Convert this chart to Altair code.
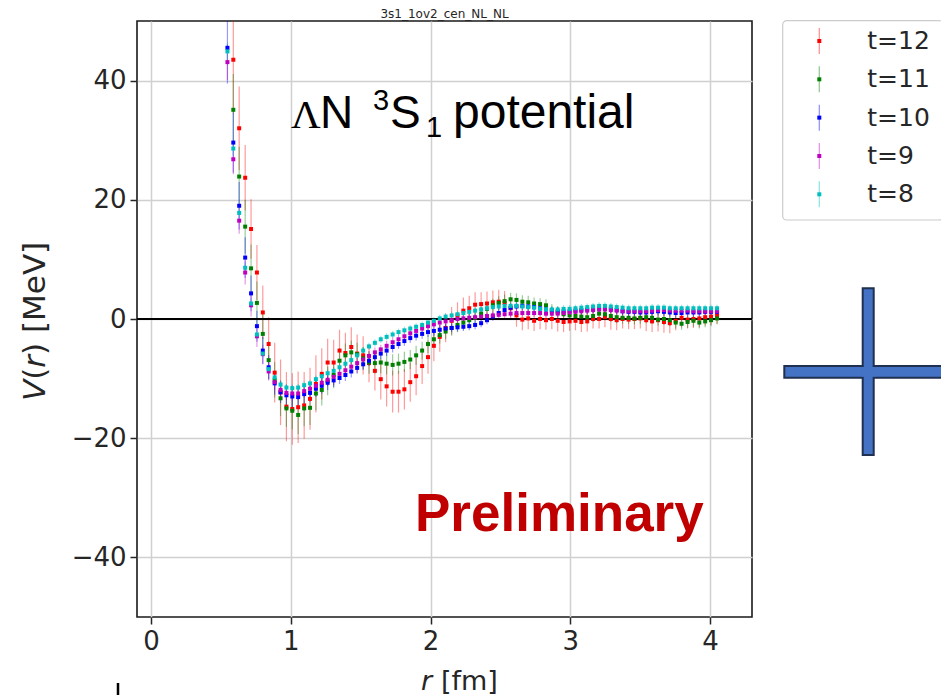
import altair as alt
import pandas as pd

# ---------------- data ----------------
r_fm = [0.547, 0.589, 0.631, 0.674, 0.716, 0.758, 0.800, 0.842, 0.885, 0.927,
        0.969, 1.011, 1.053, 1.096, 1.138, 1.180, 1.222, 1.264, 1.307, 1.349,
        1.391, 1.433, 1.475, 1.518, 1.560, 1.602, 1.644, 1.686, 1.729, 1.771,
        1.813, 1.855, 1.897, 1.940, 1.982, 2.024, 2.066, 2.108, 2.151, 2.193,
        2.235, 2.277, 2.319, 2.362, 2.404, 2.446, 2.488, 2.530, 2.573, 2.615,
        2.657, 2.699, 2.741, 2.784, 2.826, 2.868, 2.910, 2.952, 2.995, 3.037,
        3.079, 3.121, 3.163, 3.206, 3.248, 3.290, 3.332, 3.374, 3.417, 3.459,
        3.501, 3.543, 3.585, 3.628, 3.670, 3.712, 3.754, 3.796, 3.839, 3.881,
        3.923, 3.965, 4.007, 4.050]

v_t12 = [None, 43.5, 32.0, 23.7, 15.1, 7.8, 1.1, -4.2, -9.0, -12.3,
         -14.7, -15.1, -14.8, -14.5, -13.4, -10.9, -9.2, -7.3, -7.3, -5.3,
         -5.7, -4.7, -5.8, -6.1, -7.4, -8.7, -10.1, -11.3, -12.2, -12.2,
         -11.8, -10.6, -9.6, -7.9, -6.4, -4.5, -3.0, -1.5, -0.3, 0.6,
         1.4, 1.8, 2.4, 2.5, 2.6, 2.8, 2.9, 2.7, 1.8, 0.6,
         -0.1, 0.1, -0.3, 0.0, -0.2, 0.0, -0.3, -0.5, -0.4, -0.3,
         -0.5, -0.4, 0.0, 0.0, 0.3, 0.0, -0.2, 0.0, -0.1, 0.0,
         0.1, -0.2, -0.4, -0.2, -0.5, -0.7, -0.3, 0.2, -0.1, 0.0,
         0.1, 0.3, 0.4, 0.6]
e_t12 = [0.0, 9.0, 7.0, 5.5, 5.0, 4.6, 4.5, 4.5, 5.0, 5.5,
         5.8, 6.0, 6.0, 5.6, 5.2, 4.8, 4.3, 4.0, 3.8, 3.5,
         3.4, 3.3, 3.2, 3.2, 3.2, 3.3, 3.4, 3.4, 3.5, 3.5,
         3.4, 3.3, 3.2, 3.0, 2.8, 2.6, 2.5, 2.4, 2.3, 2.2,
         2.2, 2.1, 2.1, 2.0, 2.0, 2.0, 2.0, 2.0, 1.9, 1.9,
         1.8, 1.8, 1.7, 1.7, 1.6, 1.7, 1.8, 1.7, 1.6, 1.6,
         1.7, 1.7, 1.6, 1.6, 1.7, 1.8, 1.7, 1.6, 1.6, 1.7,
         1.7, 1.8, 1.8, 1.9, 1.8, 1.7, 1.6, 1.6, 1.5, 1.5,
         1.5, 1.4, 1.4, 1.4]

v_t11 = [None, 35.1, 23.9, 15.5, 8.5, 2.7, -2.5, -6.9, -10.2, -13.3,
         -15.0, -15.4, -16.1, -15.0, -14.9, -12.5, -11.9, -10.4, -9.4, -7.0,
         -6.1, -5.6, -5.9, -6.6, -7.3, -7.4, -7.3, -7.5, -7.7, -7.5,
         -7.2, -6.8, -6.1, -5.3, -4.2, -3.4, -2.7, -2.1, -1.5, -1.0,
         -0.6, -0.2, 0.2, 0.9, 1.7, 2.3, 2.7, 3.0, 3.3, 3.2,
         2.9, 2.8, 2.6, 2.5, 2.3, 1.5, 1.1, 0.8, 0.6, 0.5,
         0.4, 0.3, 0.5, 0.9, 0.8, 0.5, 0.3, 0.2, 0.2, 0.1,
         0.2, 0.3, 0.2, -0.1, 0.0, -0.2, -0.6, -0.8, -0.5, -0.3,
         -0.6, -0.4, -0.2, 0.1]
e_t11 = [0.0, 6.0, 5.0, 4.5, 4.0, 3.6, 3.4, 3.2, 3.0, 3.0,
         3.1, 3.1, 3.2, 3.0, 2.9, 2.8, 2.6, 2.4, 2.2, 2.1,
         2.0, 2.0, 1.9, 1.9, 1.9, 1.8, 1.8, 1.8, 1.8, 1.7,
         1.7, 1.6, 1.6, 1.5, 1.5, 1.4, 1.4, 1.3, 1.3, 1.2,
         1.2, 1.1, 1.1, 1.1, 1.1, 1.1, 1.1, 1.1, 1.1, 1.1,
         1.1, 1.1, 1.0, 1.0, 1.0, 1.0, 1.0, 1.0, 1.0, 1.0,
         1.0, 1.0, 1.0, 1.0, 1.0, 1.0, 1.0, 1.0, 1.0, 1.0,
         1.0, 1.0, 1.0, 1.0, 1.0, 1.0, 1.0, 1.0, 1.0, 1.0,
         1.0, 1.0, 1.0, 1.0]

v_t10 = [45.5, 29.6, 19.0, 10.3, 4.3, -1.2, -5.3, -8.1, -10.8, -12.3,
         -12.8, -13.0, -13.1, -12.6, -12.4, -11.7, -11.2, -10.7, -10.3, -9.9,
         -9.4, -8.8, -8.2, -7.6, -7.0, -6.4, -5.8, -5.3, -4.7, -4.2,
         -3.7, -3.2, -2.8, -2.5, -2.2, -2.0, -1.8, -1.6, -1.5, -1.4,
         -1.3, -1.2, -1.0, -0.7, -0.2, 0.4, 1.0, 1.5, 1.9, 2.1,
         2.2, 2.1, 2.0, 1.8, 1.6, 1.4, 1.3, 1.3, 1.3, 1.4,
         1.5, 1.6, 1.7, 1.8, 1.8, 1.7, 1.5, 1.3, 1.2, 1.2,
         1.1, 1.1, 1.2, 1.3, 1.2, 1.1, 1.0, 1.0, 1.1, 1.1,
         1.1, 1.2, 1.2, 1.2]
e_t10 = [6.0, 5.0, 4.0, 3.4, 3.0, 2.6, 2.3, 2.0, 1.9, 1.8,
         1.8, 1.8, 1.7, 1.6, 1.5, 1.4, 1.3, 1.2, 1.1, 1.0,
         1.0, 1.0, 1.0, 0.9, 0.9, 0.9, 0.9, 0.9, 0.9, 0.8,
         0.8, 0.8, 0.8, 0.8, 0.8, 0.8, 0.8, 0.8, 0.7, 0.7,
         0.7, 0.7, 0.7, 0.7, 0.7, 0.7, 0.7, 0.7, 0.7, 0.7,
         0.7, 0.7, 0.7, 0.7, 0.7, 0.7, 0.7, 0.7, 0.7, 0.7,
         0.7, 0.7, 0.7, 0.7, 0.7, 0.7, 0.7, 0.7, 0.7, 0.7,
         0.7, 0.7, 0.7, 0.7, 0.7, 0.7, 0.7, 0.7, 0.7, 0.7,
         0.7, 0.7, 0.7, 0.7]

v_t9 = [43.1, 26.8, 16.5, 7.8, 2.3, -2.9, -5.9, -8.8, -10.6, -11.9,
        -12.4, -12.5, -12.5, -12.1, -11.7, -11.2, -10.7, -10.2, -9.7, -9.2,
        -8.6, -8.0, -7.4, -6.8, -6.2, -5.6, -5.1, -4.5, -3.9, -3.4,
        -2.9, -2.4, -2.0, -1.6, -1.2, -0.9, -0.6, -0.4, -0.2, 0.0,
        0.1, 0.2, 0.3, 0.4, 0.5, 0.6, 0.7, 0.8, 0.9, 1.0,
        1.0, 1.0, 1.0, 1.0, 0.9, 0.9, 0.9, 1.0, 1.1, 1.2,
        1.3, 1.4, 1.5, 1.6, 1.6, 1.5, 1.4, 1.3, 1.3, 1.3,
        1.3, 1.3, 1.4, 1.5, 1.5, 1.4, 1.4, 1.4, 1.4, 1.3,
        1.3, 1.3, 1.3, 1.3]
e_t9 = [3.0, 2.5, 2.2, 2.0, 1.9, 1.8, 1.6, 1.5, 1.3, 1.2,
        1.2, 1.2, 1.1, 1.1, 1.0, 1.0, 1.0, 0.9, 0.9, 0.9,
        0.8, 0.8, 0.8, 0.8, 0.8, 0.8, 0.8, 0.8, 0.8, 0.8,
        0.7, 0.7, 0.7, 0.7, 0.7, 0.7, 0.7, 0.7, 0.7, 0.7,
        0.6, 0.6, 0.6, 0.6, 0.6, 0.6, 0.6, 0.6, 0.6, 0.6,
        0.6, 0.6, 0.6, 0.6, 0.6, 0.6, 0.6, 0.6, 0.6, 0.6,
        0.6, 0.6, 0.6, 0.6, 0.6, 0.6, 0.6, 0.6, 0.6, 0.6,
        0.6, 0.6, 0.6, 0.6, 0.6, 0.6, 0.6, 0.6, 0.6, 0.6,
        0.6, 0.6, 0.6, 0.6]

v_t8 = [44.9, 28.6, 17.8, 8.6, 2.6, -2.6, -5.8, -8.4, -9.8, -11.0,
        -11.5, -11.6, -11.5, -11.1, -10.8, -10.1, -9.6, -9.1, -8.7, -8.1,
        -7.5, -6.9, -6.1, -5.3, -4.6, -4.0, -3.4, -3.0, -2.6, -2.2,
        -1.9, -1.6, -1.3, -1.0, -0.6, -0.3, 0.1, 0.4, 0.6, 0.8,
        1.0, 1.2, 1.4, 1.6, 1.8, 2.0, 2.1, 2.2, 2.2, 2.2,
        2.1, 2.0, 1.9, 1.7, 1.6, 1.6, 1.6, 1.7, 1.7, 1.8,
        1.9, 2.0, 2.1, 2.2, 2.2, 2.1, 2.0, 1.9, 1.8, 1.8,
        1.8, 1.8, 1.9, 1.9, 1.9, 1.8, 1.8, 1.8, 1.8, 1.8,
        1.8, 1.8, 1.8, 1.8]
e_t8 = [1.5, 1.2, 1.0, 0.9, 0.8, 0.8, 0.7, 0.7, 0.7, 0.7,
        0.6, 0.6, 0.6, 0.6, 0.6, 0.6, 0.6, 0.6, 0.6, 0.6,
        0.6, 0.6, 0.6, 0.6, 0.6, 0.6, 0.6, 0.6, 0.6, 0.6,
        0.6, 0.6, 0.6, 0.6, 0.6, 0.6, 0.6, 0.6, 0.6, 0.6,
        0.6, 0.6, 0.6, 0.6, 0.6, 0.6, 0.6, 0.6, 0.6, 0.6,
        0.6, 0.6, 0.6, 0.6, 0.6, 0.6, 0.6, 0.6, 0.6, 0.6,
        0.6, 0.6, 0.6, 0.6, 0.6, 0.6, 0.6, 0.6, 0.6, 0.6,
        0.6, 0.6, 0.6, 0.6, 0.6, 0.6, 0.6, 0.6, 0.6, 0.6,
        0.6, 0.6, 0.6, 0.6]

series_labels = ["t=12", "t=11", "t=10", "t=9", "t=8"]
series_colors = ["#ff0000", "#008000", "#0000ff", "#bf00bf", "#00bfbf"]
series_values = [v_t12, v_t11, v_t10, v_t9, v_t8]
series_errors = [e_t12, e_t11, e_t10, e_t9, e_t8]

x_ticks = [0, 1, 2, 3, 4]
y_ticks = [-40, -20, 0, 20, 40]

rows = []
for z, (lab, vals, errs) in enumerate(zip(series_labels, series_values, series_errors)):
    for r, v, e in zip(r_fm, vals, errs):
        if v is None:
            continue
        rows.append({"r": r, "V": v, "lo": v - e, "hi": v + e, "t": lab, "z": z})
df = pd.DataFrame(rows)
leg_df = pd.DataFrame({"t": series_labels})

# ---------------- chart ----------------
FONT = "DejaVu Sans"
TXT = "#262626"
W, H = 615, 596

xscale = alt.Scale(domain=[-0.1, 4.3], nice=False, zero=False)
yscale = alt.Scale(domain=[-50, 50], nice=False, zero=False)
cscale = alt.Scale(domain=series_labels, range=series_colors)
x_axis = alt.Axis(values=x_ticks, format="d", title=None, grid=True)
y_axis = alt.Axis(values=y_ticks, title=None, grid=True, orient="left")

bars = alt.Chart(df).mark_rule(clip=True, strokeWidth=1.2, opacity=0.4).encode(
    x=alt.X("r:Q", scale=xscale, axis=x_axis),
    y=alt.Y("lo:Q", scale=yscale, axis=None),
    y2="hi:Q",
    color=alt.Color("t:N", scale=cscale, legend=None),
    order=alt.Order("z:Q"),
)

zero_df = pd.DataFrame({"V": [0]})
zero = alt.Chart(zero_df).mark_rule(color="black", strokeWidth=2).encode(
    y=alt.Y("V:Q", scale=yscale, axis=None))

pts = alt.Chart(df).mark_square(clip=True, size=16, opacity=1).encode(
    x=alt.X("r:Q", scale=xscale, axis=x_axis),
    y=alt.Y("V:Q", scale=yscale, axis=y_axis),
    color=alt.Color("t:N", scale=cscale, legend=None),
    order=alt.Order("z:Q"),
)

one = pd.DataFrame({"a": [0]})


def txt(text, x, y, size, font="Liberation Sans", weight="normal", style="normal",
        color="black", angle=0, align="left", baseline="alphabetic"):
    return alt.Chart(one).mark_text(text=text, font=font, fontSize=size, fontWeight=weight,
                                    fontStyle=style, color=color, angle=angle, align=align,
                                    baseline=baseline).encode(x=alt.value(x), y=alt.value(y))


def rect(x1, x2, y1, y2, fill, stroke=None, sw=0, radius=0):
    kw = dict(fill=fill, cornerRadius=radius)
    if stroke is not None:
        kw.update(stroke=stroke, strokeWidth=sw)
    return alt.Chart(one).mark_rect(**kw).encode(
        x=alt.value(x1), x2=alt.value(x2), y=alt.value(y1), y2=alt.value(y2))


# ---- legend (box + entries laid out by a point scale) ----
legend_box = rect(645.7, 806.3, -0.3, 199, "white", "#cccccc", 1.2, 4)
leg_y = alt.Y("t:N", scale=alt.Scale(type="point", domain=series_labels,
                                     range=[20, 173.3], padding=0), axis=None)
leg_lines = alt.Chart(leg_df).mark_tick(orient="vertical", size=26, thickness=1.2,
                                        opacity=0.45).encode(
    x=alt.value(682.3), y=leg_y, color=alt.Color("t:N", scale=cscale, legend=None))
leg_sq = alt.Chart(leg_df).mark_square(size=16, opacity=1).encode(
    x=alt.value(682.3), y=leg_y, color=alt.Color("t:N", scale=cscale, legend=None))
leg_txt = alt.Chart(leg_df).mark_text(align="left", baseline="middle", font=FONT,
                                      fontSize=25, color=TXT).encode(
    x=alt.value(730.3), y=leg_y, text="t:N")

# blue cross (slide decoration)
cross = [
    rect(725.7, 736.7, 267.3, 434, "#4472c4", "#1f3050", 2),
    rect(647.3, 820, 345, 356.7, "#4472c4", "#1f3050", 2),
    rect(726.8, 735.6, 343.5, 358.2, "#4472c4"),
    rect(724.2, 738.2, 346.1, 355.6, "#4472c4"),
]

bottom_tick = alt.Chart(one).mark_rule(color="black", strokeWidth=2.5).encode(
    x=alt.value(-19), y=alt.value(662), y2=alt.value(674))

# plot title (small, just above the frame)
title = txt("3s1_1ov2_cen_NL_NL", 307.5, -3, 12, font=FONT, color=TXT, align="center")

# annotation "ΛN 3S1 potential"
ann = [
    txt("Λ", 154, 107, 41, font="Liberation Serif"),
    txt("N", 183, 107, 46),
    txt("3", 236, 89, 29),
    txt("S", 253, 107, 46),
    txt("1", 289, 116, 29),
    txt("potential", 316, 107, 48),
]
prelim = txt("Preliminary", 278, 510, 53, weight="bold", color="#c00000")

# axis titles with italic parts
YF = 31
ytitle = [
    txt("V", -92, 380, YF, font=FONT, style="italic", color=TXT, angle=270),
    txt("(", -92, 358.8, YF, font=FONT, color=TXT, angle=270),
    txt("r", -92, 346.7, YF, font=FONT, style="italic", color=TXT, angle=270),
    txt(")", -92, 334.0, YF, font=FONT, color=TXT, angle=270),
    txt("[MeV]", -92, 312.0, YF, font=FONT, color=TXT, angle=270),
]
xtitle = [
    txt("r", 284, 669, 27, font=FONT, style="italic", color=TXT),
    txt("[fm]", 304, 669, 27, font=FONT, color=TXT),
]

chart = alt.layer(
    bars, zero, pts, legend_box, leg_lines, leg_sq, leg_txt, *cross, bottom_tick,
    title, *ann, prelim, *ytitle, *xtitle
).resolve_scale(
    y="independent"
).properties(
    width=W, height=H,
    padding={"left": 129, "top": 13, "right": 189, "bottom": 78},
    autosize=alt.AutoSizeParams(type="none"),
).configure_view(
    stroke="#1a1a1a", strokeWidth=1.6
).configure_axis(
    domain=False, gridColor="#d0d0d0", gridWidth=1.5, tickColor=TXT, tickSize=7,
    tickWidth=1.5, labelFont=FONT, labelFontSize=26, labelColor=TXT, labelPadding=4,
)

chart.save("out.html", embed_options={"renderer": "svg", "actions": False})
